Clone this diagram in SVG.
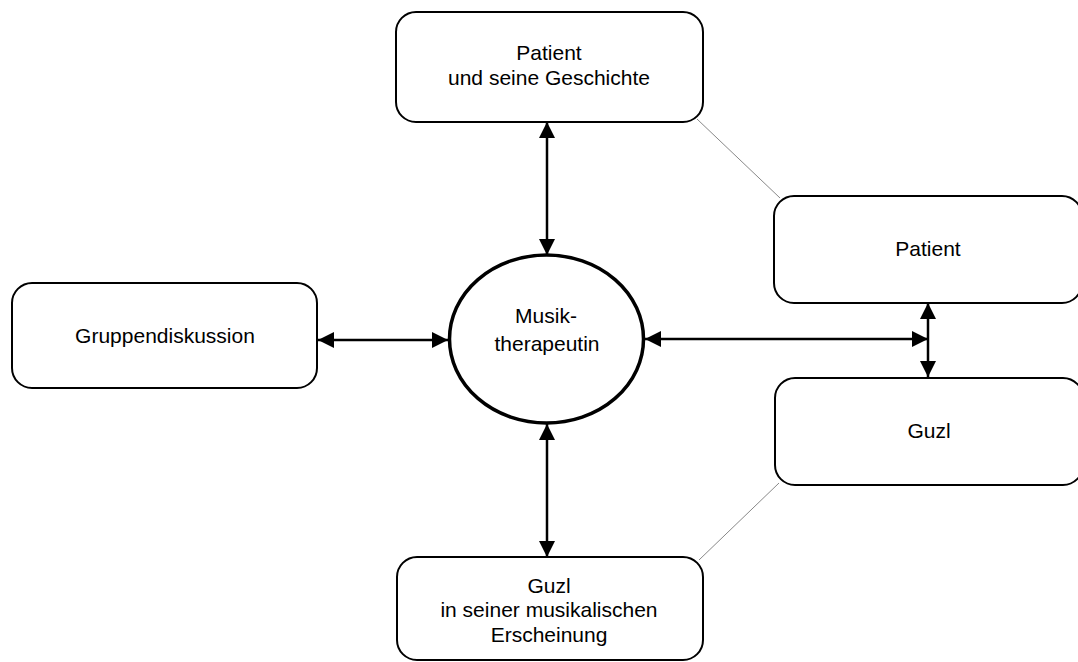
<svg xmlns="http://www.w3.org/2000/svg" width="1078" height="662" viewBox="0 0 1078 662">
<style>
.box{fill:#fff;stroke:#000;stroke-width:2}
.ell{fill:#fff;stroke:#000;stroke-width:3.5}
.lbl{font-family:"Liberation Sans",Arial,sans-serif;font-size:21px;fill:#000;text-anchor:middle}
.arr{stroke:#000;stroke-width:2.5;fill:none;marker-start:url(#ah);marker-end:url(#ah)}
.thin{stroke:#888;stroke-width:1;fill:none}
</style>
<defs>
<marker id="ah" viewBox="0 0 16 16" refX="16" refY="8" markerWidth="16" markerHeight="16" markerUnits="userSpaceOnUse" orient="auto-start-reverse">
<path d="M0,0 L16,8 L0,16 z" fill="#000"/>
</marker>
</defs>
<g id="connectors">
<line class="thin" x1="697" y1="119" x2="780" y2="198"/>
<line class="thin" x1="779" y1="483" x2="699" y2="560"/>
<line class="arr" x1="547" y1="122" x2="547" y2="255"/>
<line class="arr" x1="547" y1="424" x2="547" y2="557"/>
<line class="arr" x1="318" y1="340" x2="448" y2="340"/>
<line class="arr" x1="645" y1="339" x2="928" y2="339"/>
<line class="arr" x1="928" y1="303" x2="928" y2="377"/>
</g>
<g id="node-geschichte">
<rect class="box" x="396" y="12" width="307" height="110" rx="20"/>
<text class="lbl" x="549" y="60">Patient</text>
<text class="lbl" x="549" y="85">und seine Geschichte</text>
</g>
<g id="node-patient">
<rect class="box" x="774" y="196" width="308" height="107" rx="20"/>
<text class="lbl" x="928" y="256">Patient</text>
</g>
<g id="node-guzl">
<rect class="box" x="775" y="378" width="308" height="107" rx="20"/>
<text class="lbl" x="929" y="438">Guzl</text>
</g>
<g id="node-gruppe">
<rect class="box" x="12" y="283" width="305" height="105" rx="20"/>
<text class="lbl" x="165" y="343">Gruppendiskussion</text>
</g>
<g id="node-therapeutin">
<ellipse class="ell" cx="546.5" cy="339" rx="97" ry="84"/>
<text class="lbl" x="546" y="323">Musik-</text>
<text class="lbl" x="547" y="351">therapeutin</text>
</g>
<g id="node-guzl-musik">
<rect class="box" x="397" y="557" width="306" height="103" rx="20"/>
<text class="lbl" x="549" y="593">Guzl</text>
<text class="lbl" x="549" y="617">in seiner musikalischen</text>
<text class="lbl" x="549" y="642">Erscheinung</text>
</g>
</svg>
